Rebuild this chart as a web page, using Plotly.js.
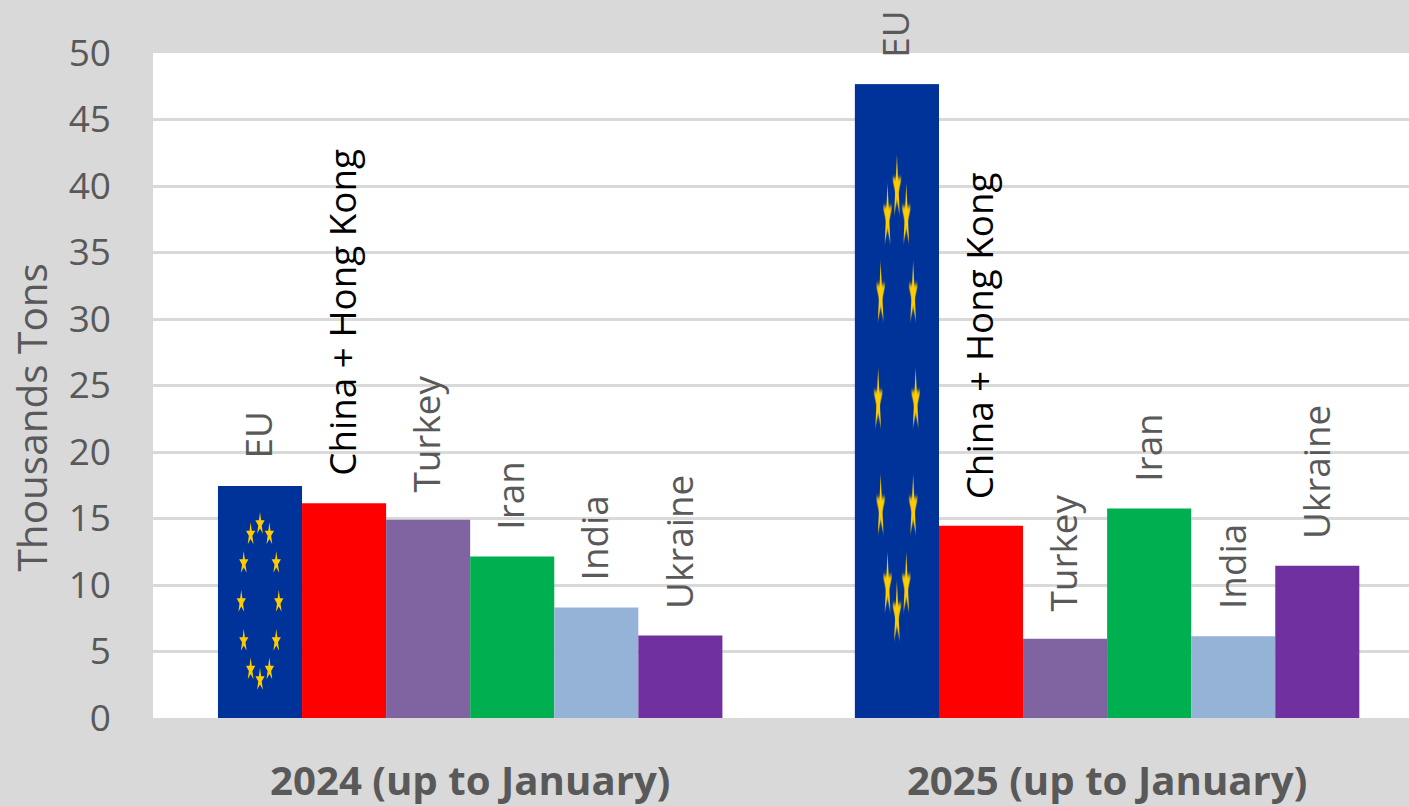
<!DOCTYPE html>
<html>
<head>
<meta charset="utf-8">
<script src="https://cdn.plot.ly/plotly-3.0.1.min.js"></script>
<style>html,body{margin:0;padding:0;background:#d9d9d9;overflow:hidden}</style>
</head>
<body>
<div id="chart" style="width:1409px;height:806px"></div>
<script>
const periods = ["2024 (up to January)", "2025 (up to January)"];
const countries = ["EU", "China + Hong Kong", "Turkey", "Iran", "India", "Ukraine"];
const eu = [17.45, 47.65];
const china = [16.15, 14.45];
const turkey = [14.9, 5.95];
const iran = [12.15, 15.75];
const india = [8.3, 6.15];
const ukraine = [6.2, 11.45];
const barColors = ["#003399", "#ff0000", "#8064a2", "#00b050", "#95b3d7", "#7030a0"];
const labelColors = ["#595959", "#000000", "#595959", "#595959", "#595959", "#595959"];
const yTicks = [0, 5, 10, 15, 20, 25, 30, 35, 40, 45, 50];

const seriesList = [eu, china, turkey, iran, india, ukraine];
const gap = 0.208;
const barW = (1 - gap) / countries.length;

const traces = countries.map((name, i) => ({
  type: "bar",
  name: name,
  x: periods,
  y: seriesList[i],
  marker: {color: barColors[i], line: {width: 0}},
  hoverinfo: "x+y+name"
}));

// EU flag picture fill: a small SVG stretched over each EU bar, as in the source chart
function starPath(cx, cy, rx, ry) {
  let d = "";
  for (let k = 0; k < 10; k++) {
    const a = -Math.PI / 2 + k * Math.PI / 5;
    const f = k % 2 ? 0.38 : 1;
    d += (k ? "L" : "M") + (cx + rx * f * Math.cos(a)).toFixed(2) + " " + (cy + ry * f * Math.sin(a)).toFixed(2);
  }
  return d + "Z";
}
let stars = "";
for (let k = 0; k < 12; k++) {
  const a = k * Math.PI / 6;
  stars += starPath(50 + 22.3 * Math.sin(a), 50 - 33.6 * Math.cos(a), 5.8, 5.2);
}
const flag = "data:image/svg+xml;utf8," + encodeURIComponent(
  '<svg xmlns="http://www.w3.org/2000/svg" width="400" height="400" viewBox="0 0 100 100" preserveAspectRatio="none">' +
  '<defs><filter id="b" x="-5%" y="-5%" width="110%" height="110%"><feGaussianBlur stdDeviation="0.35 0.3"/></filter></defs>' +
  '<rect width="100" height="100" fill="#003399"/><path d="' + stars + '" fill="#ffcc00" filter="url(#b)"/></svg>');

const images = eu.map((v, j) => ({
  source: flag, xref: "x", yref: "y",
  x: j - (1 - gap) / 2, y: 0,
  sizex: barW, sizey: v,
  sizing: "stretch", xanchor: "left", yanchor: "bottom", layer: "above"
}));

const annotations = [];
countries.forEach((name, i) => {
  periods.forEach((p, j) => {
    annotations.push({
      xref: "x", yref: "y",
      x: j - (1 - gap) / 2 + barW * (i + 0.5),
      y: seriesList[i][j],
      yshift: 25, xshift: -2,
      yanchor: "bottom", xanchor: "center",
      text: name, textangle: -90, showarrow: false,
      font: {family: "Open Sans", size: 36.8, color: labelColors[i]}
    });
  });
});
annotations.push({
  xref: "paper", yref: "paper", x: 0, y: 0.5,
  xshift: -122, yshift: -32,
  xanchor: "center", yanchor: "middle",
  text: "Thousands Tons", textangle: -90, showarrow: false,
  font: {family: "Open Sans", size: 40.5, color: "#595959"}
});

const layout = {
  width: 1409, height: 806,
  margin: {l: 153, r: 0, t: 53, b: 88, pad: 0},
  paper_bgcolor: "#d9d9d9", plot_bgcolor: "#ffffff",
  barmode: "group", bargap: gap, bargroupgap: 0,
  showlegend: false,
  font: {family: "Open Sans", color: "#595959"},
  xaxis: {
    type: "category", range: [-0.498, 1.474],
    showgrid: false, zeroline: false, showline: false, ticks: "",
    ticklabelstandoff: 36,
    tickfont: {family: "Open Sans", size: 40.2, color: "#595959", weight: "bold"}
  },
  yaxis: {
    range: [0, 50], tickvals: yTicks, ticktext: yTicks.map(String),
    showgrid: true, gridcolor: "#d9d9d9", gridwidth: 3,
    zeroline: false, showline: false, ticks: "",
    ticklabelstandoff: 41,
    tickfont: {family: "Open Sans", size: 37, color: "#595959"}
  },
  images: images,
  annotations: annotations
};
Plotly.newPlot("chart", traces, layout, {displayModeBar: false, responsive: false});
</script>
</body>
</html>
